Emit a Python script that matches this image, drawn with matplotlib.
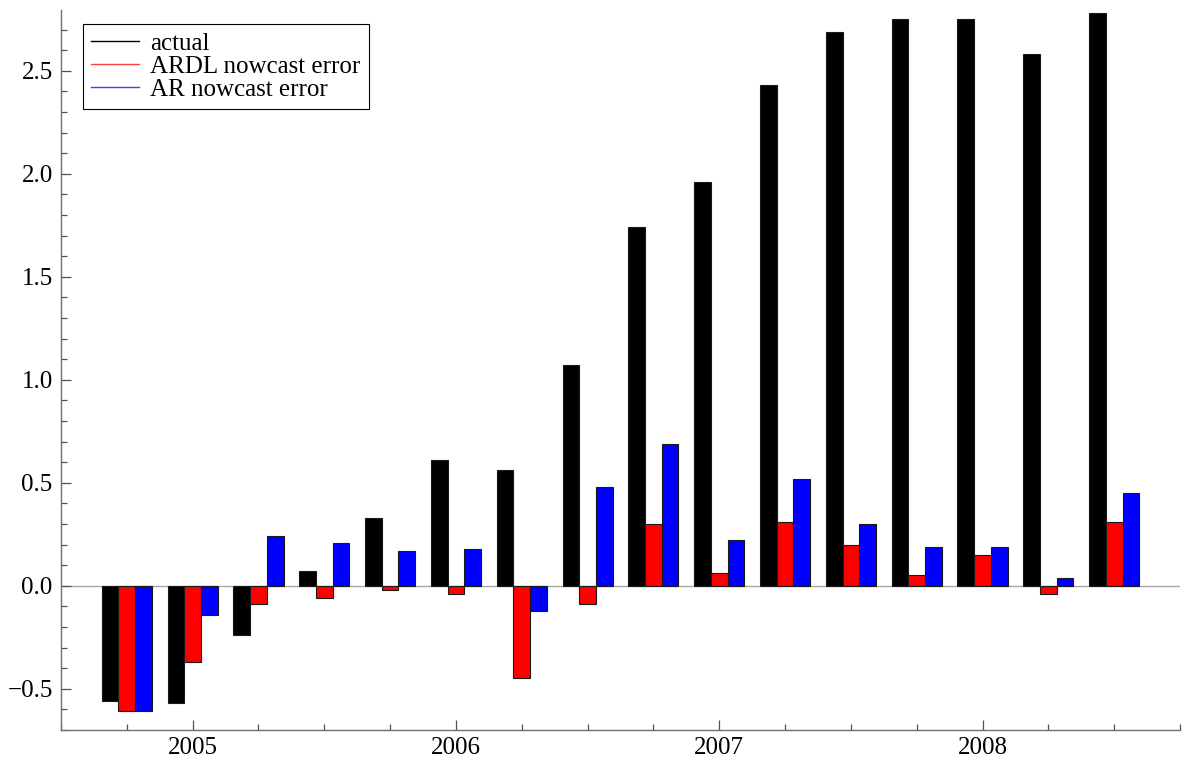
import matplotlib
matplotlib.use("Agg")
import matplotlib.pyplot as plt
from matplotlib.lines import Line2D
from matplotlib.ticker import MultipleLocator, FixedLocator
import numpy as np

# quarterly nowcast comparison, 2004Q4 - 2008Q3
quarters = ["2004Q4",
            "2005Q1", "2005Q2", "2005Q3", "2005Q4",
            "2006Q1", "2006Q2", "2006Q3", "2006Q4",
            "2007Q1", "2007Q2", "2007Q3", "2007Q4",
            "2008Q1", "2008Q2", "2008Q3"]
actual = [-0.56, -0.57, -0.24, 0.07, 0.33, 0.61, 0.56, 1.07,
          1.74, 1.96, 2.43, 2.69, 2.75, 2.75, 2.58, 2.78]
ardl_err = [-0.61, -0.37, -0.09, -0.06, -0.02, -0.04, -0.45, -0.09,
            0.30, 0.06, 0.31, 0.20, 0.05, 0.15, -0.04, 0.31]
ar_err = [-0.61, -0.14, 0.24, 0.21, 0.17, 0.18, -0.12, 0.48,
          0.69, 0.22, 0.52, 0.30, 0.19, 0.19, 0.04, 0.45]
year_labels = ["2005", "2006", "2007", "2008"]

plt.rcParams['font.family'] = 'Liberation Serif'
plt.rcParams['font.size'] = 18

fig = plt.figure(figsize=(11.82, 7.66), dpi=100)
ax = fig.add_axes([61/1182, 1-730/766, (1180-61)/1182, 720/766])

x = np.arange(len(quarters))
w = 0.254
edge = dict(edgecolor="#1a1a1a", linewidth=0.8, zorder=3)
ax.bar(x - w, actual, w, color="black", **edge)
ax.bar(x, ardl_err, w, color="red", **edge)
ax.bar(x + w, ar_err, w, color="blue", **edge)

ax.axhline(0, color="#a8a8a8", linewidth=1.0, zorder=1)

ax.set_xlim(-1, 16)
ax.set_ylim(-0.7, 2.795)

# axes styling
for s in ["top", "right"]:
    ax.spines[s].set_visible(False)
for s in ["left", "bottom"]:
    ax.spines[s].set_color("#707070")
    ax.spines[s].set_linewidth(1.0)

ax.yaxis.set_major_locator(MultipleLocator(0.5))
ax.yaxis.set_minor_locator(MultipleLocator(0.1))
ax.yaxis.set_major_formatter(lambda v, p: f"{v:.1f}".replace("-", "\u2212"))

major_x = [1, 5, 9, 13]
ax.xaxis.set_major_locator(FixedLocator(major_x))
ax.set_xticklabels(year_labels)
ax.xaxis.set_minor_locator(FixedLocator([i for i in range(-1, 17) if i not in major_x]))

ax.tick_params(which="both", direction="in", color="#505050", width=0.9)
ax.tick_params(which="major", length=7.5)
ax.tick_params(which="minor", length=4)
ax.tick_params(axis="y", which="major", pad=6)
ax.tick_params(axis="x", which="major", pad=5)

handles = [Line2D([0], [0], color="black", lw=1),
           Line2D([0], [0], color="#ff4040", lw=1),
           Line2D([0], [0], color="#4040ff", lw=1)]
leg = ax.legend(handles, ["actual", "ARDL nowcast error", "AR nowcast error"],
                loc="upper left", bbox_to_anchor=(83/1182, 1-24/766),
                bbox_transform=fig.transFigure, fancybox=False,
                edgecolor="black", framealpha=1, borderpad=0.33,
                handlelength=1.92, handletextpad=0.45, labelspacing=0.02,
                borderaxespad=0)
leg.get_frame().set_linewidth(0.8)

fig.savefig("out.png", dpi=100)
